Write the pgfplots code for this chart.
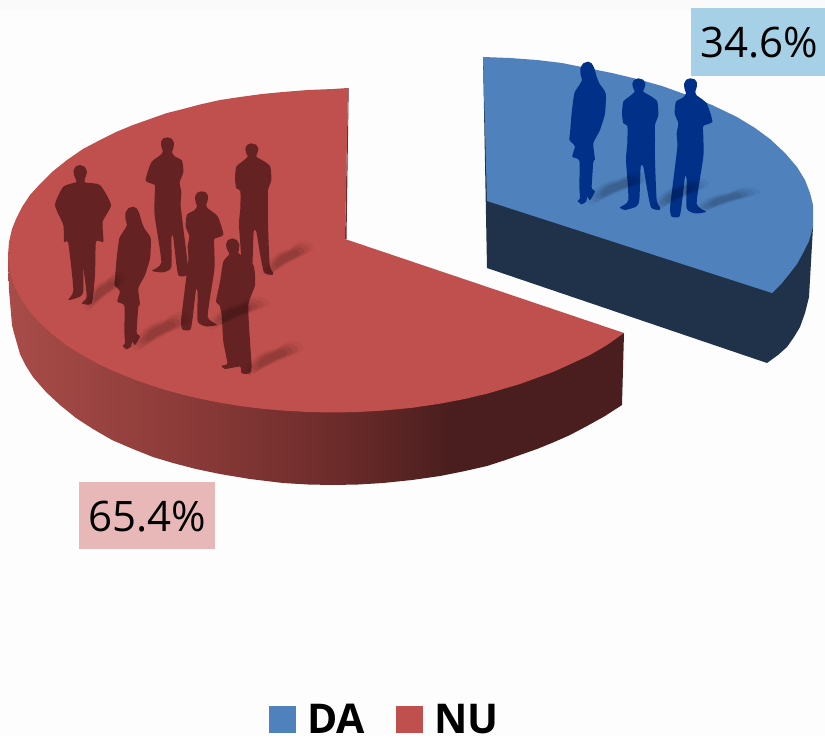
\documentclass[border=0pt]{standalone}
\usepackage{pgfplots}
\usepackage{fontspec}
\setmainfont{Open Sans}
\pgfplotsset{compat=1.18}
\usepackage{pgfplotstable}
\definecolor{bg}{HTML}{FDFDFD}
\definecolor{bgtop}{HTML}{FAFAFA}
\definecolor{blueTop}{HTML}{4F81BD}
\definecolor{blueSide}{HTML}{1F3249}
\definecolor{blueSil}{HTML}{003087}
\definecolor{redTop}{HTML}{C0504D}
\definecolor{redSil}{HTML}{652222}
\definecolor{boxB}{HTML}{A6D0E5}
\definecolor{boxR}{HTML}{E8B8B8}
\definecolor{rs1}{HTML}{A84C48}
\definecolor{rs2}{HTML}{8A3A38}
\definecolor{rs3}{HTML}{6B2B2A}
\definecolor{rs4}{HTML}{4A1E1E}
\pgfdeclarehorizontalshading{redside}{100bp}{color(0bp)=(rs1); color(25bp)=(rs1); color(40bp)=(rs2); color(52bp)=(rs3); color(61bp)=(rs4); color(100bp)=(rs4)}
\pgfplotstableread{
x y
145 185
130 190
121 205
122 225
126 240
118 255
103 280
95 340
90 400
88 420
100 432
105 440
97 470
118 482
118 560
120 595
113 603
125 613
138 605
142 590
150 600
165 575
158 568
155 560
160 485
165 478
160 430
180 390
195 340
197 280
178 250
170 230
163 205
155 190
}\womanT
\pgfplotstableread{
x y
295 235
282 240
277 252
280 265
284 275
270 288
250 305
246 340
250 370
262 378
262 430
258 480
265 600
240 622
255 630
288 620
298 600
302 500
310 500
320 560
333 622
358 630
360 622
350 600
345 480
345 420
345 375
355 345
352 305
335 290
310 275
314 262
316 250
309 239
}\midT
\pgfplotstableread{
x y
452 235
439 239
432 252
434 268
438 280
430 292
408 305
404 340
415 370
410 400
412 440
400 540
390 625
395 650
418 650
425 615
435 530
440 540
440 625
465 640
498 635
470 610
490 470
490 410
490 378
517 365
500 310
470 286
466 275
470 262
471 248
464 238
}\rightT
\pgfplotstableread{
x y
120 120
108 124
101 136
102 150
108 165
108 172
70 185
45 240
70 300
72 350
85 355
100 495
85 525
120 515
130 500
130 430
140 515
125 535
155 535
165 450
168 350
190 350
188 290
213 240
180 180
135 172
137 155
141 140
134 125
}\suitT
\pgfplotstableread{
x y
277 340
263 346
258 360
262 375
268 388
250 410
240 470
228 530
238 540
245 570
250 650
262 715
245 722
255 732
300 725
305 745
330 745
335 725
330 650
325 540
345 480
340 420
296 385
296 378
298 358
290 345
}\frontT
\pgfplotstableread{
x y
0 0
6 -10
14 -17
24 -21
32 -26
40 -25
43 -20
36 -15
24 -9
14 -3
5 3
}\shadowT
\newcommand{\sil}[5]{\addplot[fill=#1,draw=none,smooth,tension=.35] table[x expr=#3*\thisrow{x}/3+#4, y expr=\thisrow{y}/3+#5] {#2} -- cycle;}
\newcommand{\shadlayer}[6]{\addplot[fill=black,fill opacity=#6,draw=none,smooth,tension=.6] table[x expr=#3*(#5*(\thisrow{x}-20)+20)+#1, y expr=#4*(#5*(\thisrow{y}+12)-12)+#2] {\shadowT} -- cycle;}
\newcommand{\shad}[4]{\shadlayer{#1}{#2}{#3}{#4}{1.5}{.04}\shadlayer{#1}{#2}{#3}{#4}{1.25}{.06}\shadlayer{#1}{#2}{#3}{#4}{1.0}{.08}\shadlayer{#1}{#2}{#3}{#4}{.75}{.07}}
\begin{document}
\begin{tikzpicture}
\begin{axis}[scale only axis,width=825pt,height=737pt,xmin=0,xmax=825,ymin=0,ymax=737,y dir=reverse,
 axis lines=none,ticks=none,clip=false,axis background/.style={fill=bg},
 every axis plot/.append style={mark=none,forget plot}]
\addplot[fill=bgtop,draw=none] coordinates {(0,0) (825,0) (825,10) (0,10)} -- cycle;
% red side
\addplot[draw=none,shade,shading=redside] coordinates {(8,255) (9,290) (12,325) (14,333) (20,354) (26,366) (33,377) (46,392) (60,405) (76,418) (93,429) (112,440) (133,449) (153,457) (173,463) (196,469) (220,474) (250,479) (283,483) (308,484.5) (333,485) (358,484.5) (383,483) (412,480) (440,476) (465,471) (487,466) (504,460.5) (520,455) (537,449) (553,442.5) (570,435) (587,426) (605,416) (622,405) (624,333) (331,400) (100,300)} -- cycle;
% red notch edge
\addplot[fill=rs3,draw=none] coordinates {(348,88) (348.7,88) (346.5,239) (345,239)} -- cycle;
% red top
\addplot[fill=redTop,draw=none] coordinates {(345,239) (348,88) (333,89) (308,90) (283,92) (262,94) (240,97) (220,100) (200,104.5) (183,109) (167,113) (150,119) (133,125) (116,132) (100,140) (83,149) (67,160) (52,172) (40,184) (30,195) (22,207) (16,219) (12,229) (9,242) (8,255) (9,267.4) (12,279.6) (16,289.7) (22,300.7) (30,312) (40,323) (52,334) (67,345.6) (83,355.6) (100,364.8) (116,372) (133,379) (150,385) (167,390.4) (183,394.7) (200,398.7) (220,402.7) (240,406) (262,408.7) (283,410.6) (308,412) (333,412.5) (358,412) (383,410.6) (412,407.8) (440,403.7) (465,398.9) (487,393.7) (520,384) (553,372) (575,362) (590,355) (607,345) (624,333)} -- cycle;
% blue side
\addplot[fill=blueSide,draw=none] coordinates {(483,57) (487,268) (767,363) (778,355) (787,347) (794,337) (800,327) (805,313) (809,297) (811,262) (813,227) (700,100)} -- cycle;
% blue top
\addplot[fill=blueTop,draw=none] coordinates {(487,201) (483,57) (510,58) (537,60) (562,63) (587,68) (612,73) (637,79) (662,86) (687,95) (712,105) (737,117) (755,128) (770,139) (785,153) (797,167) (805,180) (810,193) (813,205) (813,215) (813,227) (809,241) (803,253) (797,264) (790,273) (782,283) (772,293)} -- cycle;
% red people
\sil{redSil}{\suitT}{1}{40}{125}
\sil{redSil}{\rightT}{-1}{318}{59}
\sil{redSil}{\midT}{1}{153}{65}
\sil{redSil}{\womanT}{1}{85}{145}
\sil{redSil}{\rightT}{1}{51}{113}
\sil{redSil}{\frontT}{1}{140}{125}
% blue people
\sil{blueSil}{\womanT}{1}{540}{0}
\sil{blueSil}{\midT}{1}{540}{0}
\sil{blueSil}{\rightT}{1}{540}{0}
% shadows
\shad{90}{302}{.65}{.9}
\shad{140}{342}{.95}{.9}
\shad{215}{322}{1}{.75}
\shad{270}{268}{.8}{.8}
\shad{252}{368}{.95}{.8}
\shad{595}{197}{1}{.75}
\shad{660}{203}{.9}{.75}
\shad{703}{207}{1.05}{.6}
% label boxes
\addplot[fill=boxB,draw=none] coordinates {(691,8) (825,8) (825,76) (691,76)} -- cycle;
\addplot[fill=boxR,draw=none] coordinates {(79,482) (215,482) (215,549) (79,549)} -- cycle;
\node[anchor=center,inner sep=0pt,font=\fontsize{42}{42}\selectfont] at (axis cs:759,43) {34.6\%};
\node[anchor=center,inner sep=0pt,font=\fontsize{42}{42}\selectfont] at (axis cs:147,517) {65.4\%};
% legend
\addplot[fill=blueTop,draw=none] coordinates {(269,706) (296,706) (296,733) (269,733)} -- cycle;
\addplot[fill=redTop,draw=none] coordinates {(396,706) (423,706) (423,733) (396,733)} -- cycle;
\node[anchor=base west,inner sep=0pt,font=\fontsize{41}{41}\selectfont\bfseries] at (axis cs:307,733) {DA};
\node[anchor=base west,inner sep=0pt,font=\fontsize{41}{41}\selectfont\bfseries] at (axis cs:434,733) {NU};
\end{axis}
\end{tikzpicture}
\end{document}
